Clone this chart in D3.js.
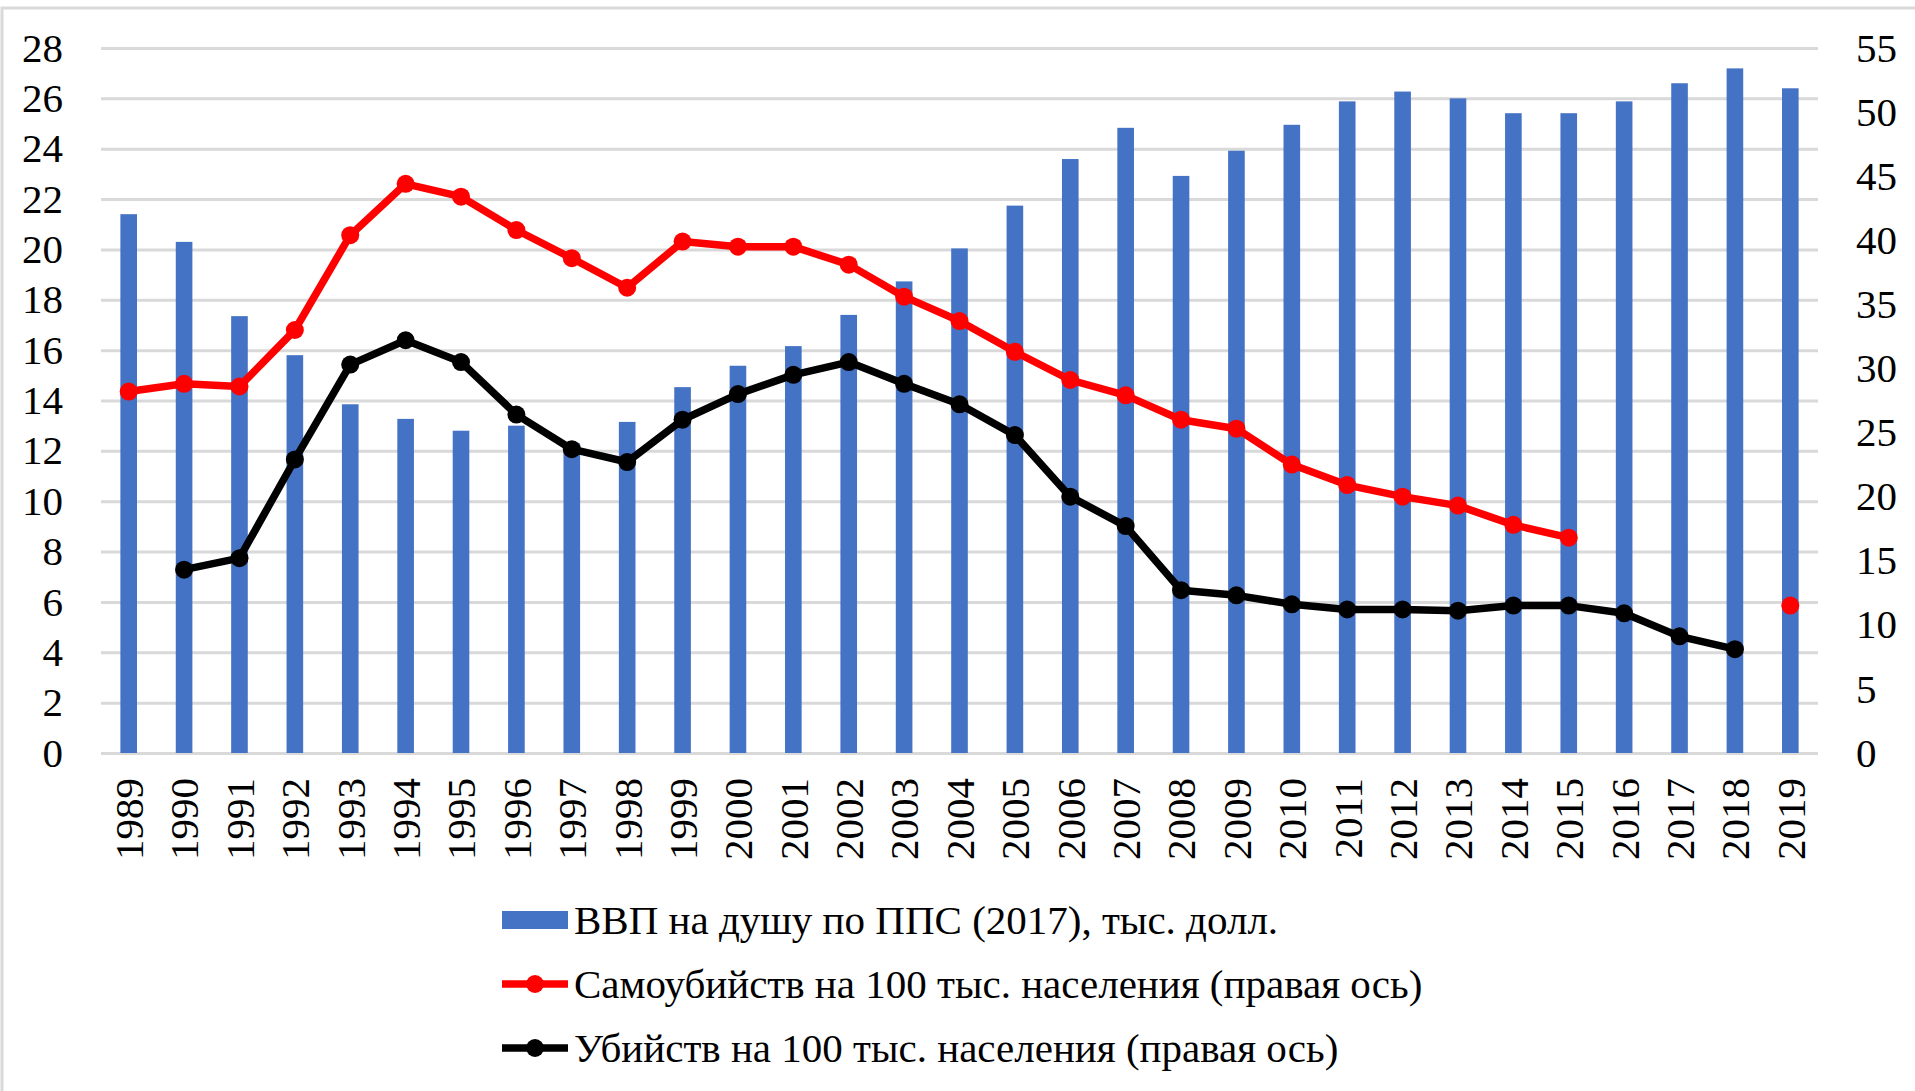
<!DOCTYPE html>
<html lang="ru">

<head>
  <meta charset="utf-8">
  <title>ВВП, самоубийства и убийства</title>
  <script src="https://cdn.jsdelivr.net/npm/d3@7"></script>
  <style>
    body {
      margin: 0;
      background: #fff;
    }

    svg text {
      font-family: "Liberation Serif", "Times New Roman", serif !important;
    }

    .axis path,
    .axis line {
      display: none;
    }

    .grid line {
      stroke: #d9d9d9;
      stroke-width: 3;
    }

    .grid path {
      display: none;
    }
  </style>
</head>

<body>
  <div id="box"></div>
  <script>
    // размеры
    const width = 1915
    const height = 1091

    const padding = {
      top: 48,
      right: 97,
      bottom: 338,
      left: 101
    }

    const fontFamily = 'Liberation Serif'
    const fontSize = 41

    // данные
    const years = d3.range(1989, 2020)
    const gdp = [21.4, 20.3, 17.35, 15.8, 13.85, 13.27, 12.8, 13.0, 12.3, 13.15, 14.53, 15.38, 16.16, 17.4, 18.73,
      20.04, 21.74, 23.59, 24.83, 22.92, 23.92, 24.95, 25.88, 26.27, 26.0, 25.41, 25.41, 25.88, 26.6, 27.19, 26.4]
    const suicides = [28.2, 28.8, 28.6, 33.0, 40.4, 44.4, 43.4, 40.8, 38.6, 36.3, 39.9, 39.5, 39.5, 38.1, 35.6,
      33.7, 31.3, 29.1, 27.9, 26.0, 25.3, 22.5, 20.9, 20.0, 19.3, 17.8, 16.8, null, null, null, 11.5]
    const homicides = [null, 14.3, 15.2, 22.9, 30.3, 32.2, 30.5, 26.4, 23.7, 22.7, 26.0, 28.0, 29.5, 30.5, 28.8,
      27.2, 24.8, 20.0, 17.7, 12.7, 12.3, 11.6, 11.2, 11.2, 11.1, 11.5, 11.5, 10.9, 9.1, 8.1, null]
    const leftTicks = d3.range(0, 29, 2)
    const rightTicks = d3.range(0, 56, 5)
    const legendLabels = [
      'ВВП на душу по ППС (2017), тыс. долл.',
      'Самоубийств на 100 тыс. населения (правая ось)',
      'Убийств на 100 тыс. населения (правая ось)'
    ]

    const innerW = width - padding.left - padding.right
    const innerH = height - padding.top - padding.bottom

    const xScale = d3.scaleBand()
      .domain(years)
      .range([0, innerW])
      .paddingInner(0.7)
      .paddingOuter(0.35)

    const yLeft = d3.scaleLinear().domain([0, 28]).range([innerH, 0])
    const yRight = d3.scaleLinear().domain([0, 55]).range([innerH, 0])

    const xCenter = (i) => xScale(years[i]) + xScale.bandwidth() / 2

    const lineWidth = 7.5
    const markerR = 9

    const svg = d3.select('#box')
      .append('svg')
      .attr('width', width)
      .attr('height', height)
      .attr('font-family', fontFamily)

    // рамка
    svg.append('rect')
      .attr('x', 2)
      .attr('y', 8)
      .attr('width', width + 20)
      .attr('height', height + 20)
      .attr('fill', 'none')
      .attr('stroke', '#d9d9d9')
      .attr('stroke-width', 3)

    const g = svg.append('g')
      .attr('transform', `translate(${padding.left},${padding.top})`)

    // сетка
    g.append('g')
      .attr('class', 'grid')
      .call(d3.axisLeft(yLeft).tickValues(leftTicks).tickSize(-innerW).tickFormat(''))

    // столбцы
    g.selectAll('.bar')
      .data(gdp)
      .enter()
      .append('rect')
      .attr('class', 'bar')
      .attr('x', (d, i) => xScale(years[i]))
      .attr('y', d => yLeft(d))
      .attr('width', xScale.bandwidth())
      .attr('height', d => innerH - yLeft(d))
      .attr('fill', '#4472c4')

    // линии
    const line = d3.line()
      .defined(d => d != null)
      .x((d, i) => xCenter(i))
      .y(d => yRight(d))

    function drawSeries(values, color) {
      g.append('path')
        .datum(values)
        .attr('fill', 'none')
        .attr('stroke', color)
        .attr('stroke-width', lineWidth)
        .attr('stroke-linejoin', 'round')
        .attr('d', line)

      g.selectAll(null)
        .data(values.map((v, i) => ({ v, i })).filter(d => d.v != null))
        .enter()
        .append('circle')
        .attr('cx', d => xCenter(d.i))
        .attr('cy', d => yRight(d.v))
        .attr('r', markerR)
        .attr('fill', color)
    }

    drawSeries(suicides, '#ff0000')
    drawSeries(homicides, '#000000')

    // оси
    function styleAxis(sel) {
      sel.attr('font-family', fontFamily)
        .attr('font-size', fontSize)
      sel.selectAll('text').attr('fill', '#000')
    }

    g.append('g')
      .attr('class', 'axis')
      .call(d3.axisLeft(yLeft).tickValues(leftTicks).tickSize(0).tickPadding(38))
      .call(styleAxis)

    g.append('g')
      .attr('class', 'axis')
      .attr('transform', `translate(${innerW},0)`)
      .call(d3.axisRight(yRight).tickValues(rightTicks).tickSize(0).tickPadding(38))
      .call(styleAxis)

    g.append('g')
      .attr('class', 'axis')
      .attr('transform', `translate(0,${innerH})`)
      .call(d3.axisBottom(xScale).tickSize(0).tickPadding(0))
      .call(styleAxis)
      .selectAll('text')
      .attr('text-anchor', 'end')
      .attr('transform', 'translate(0,25) rotate(-90)')
      .attr('x', 0)
      .attr('y', 0)
      .attr('dy', '0.35em')

    // легенда
    const legend = svg.append('g')
      .attr('transform', 'translate(502,920)')
      .attr('font-size', fontSize)

    const rowGap = 64

    legend.append('rect')
      .attr('x', 0)
      .attr('y', -9)
      .attr('width', 66)
      .attr('height', 18)
      .attr('fill', '#4472c4')

    ;[['#ff0000', 1], ['#000000', 2]].forEach(([color, row]) => {
      legend.append('line')
        .attr('x1', 0)
        .attr('x2', 66)
        .attr('y1', row * rowGap)
        .attr('y2', row * rowGap)
        .attr('stroke', color)
        .attr('stroke-width', lineWidth)
      legend.append('circle')
        .attr('cx', 33)
        .attr('cy', row * rowGap)
        .attr('r', markerR)
        .attr('fill', color)
    })

    legend.selectAll('.legendText')
      .data(legendLabels)
      .enter()
      .append('text')
      .attr('class', 'legendText')
      .attr('x', 72)
      .attr('y', (d, i) => i * rowGap)
      .attr('dy', '0.35em')
      .attr('fill', '#000')
      .text(d => d)
  </script>
</body>

</html>
